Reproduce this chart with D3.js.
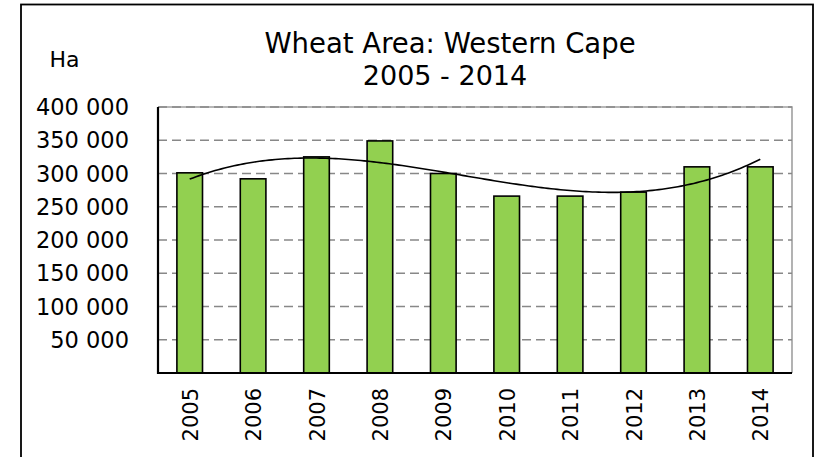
<!DOCTYPE html>
<html><head><meta charset="utf-8">
<script src="https://cdn.jsdelivr.net/npm/d3@7"></script>
<style>body{margin:0;background:#fff}svg{display:block}text{font-family:"DejaVu Sans",Verdana,sans-serif;fill:#000}</style>
</head><body><svg id="c" width="818" height="457"></svg>
<script>
const years = ["2005","2006","2007","2008","2009","2010","2011","2012","2013","2014"];
const area = [301000,292000,325000,349000,300000,266000,266000,272000,310000,310000];
const yTicks = [50000,100000,150000,200000,250000,300000,350000,400000];
const titleLines = ["Wheat Area: Western Cape","2005 - 2014"];
const unitLabel = "Ha";

const svg = d3.select("#c");
const m = {l:158, r:792, t:107, b:373};
const x = d3.scaleBand().domain(years).range([m.l,m.r]).paddingInner(0.596).paddingOuter(0.298);
const xc = d => x(d)+x.bandwidth()/2;
const y = d3.scaleLinear().domain([0,400000]).range([m.b,m.t]);

// outer frame
svg.append("rect").attr("x",21).attr("y",4.5).attr("width",792).attr("height",470)
  .attr("fill","none").attr("stroke","#000").attr("stroke-width",1.8);

// plot border top/right grey
svg.append("path").attr("d",`M${m.l},${m.t}H${m.r}V${m.b}`).attr("fill","none").attr("stroke","#a0a0a0").attr("stroke-width",1.6);

// gridlines
svg.append("g").selectAll("line").data(yTicks).join("line")
  .attr("x1",m.l).attr("x2",m.r).attr("y1",d=>y(d)).attr("y2",d=>y(d))
  .attr("stroke","#888").attr("stroke-width",1.6).attr("stroke-dasharray","9,5");

// bars
svg.append("g").selectAll("rect").data(area).join("rect")
  .attr("x",(d,i)=>x(years[i])).attr("width",x.bandwidth())
  .attr("y",d=>y(d)).attr("height",d=>y(0)-y(d))
  .attr("fill","#92D050").attr("stroke","#000").attr("stroke-width",1.6);

// polynomial (order 3) trendline fitted to the data
function polyfit(xs, ys, k){
  const n=k+1, A=[...Array(n)].map(()=>Array(n+1).fill(0));
  for(let r=0;r<n;r++){for(let c=0;c<n;c++)A[r][c]=d3.sum(xs,v=>Math.pow(v,r+c));A[r][n]=d3.sum(xs,(v,i)=>Math.pow(v,r)*ys[i]);}
  for(let i=0;i<n;i++){let p=i;for(let j=i+1;j<n;j++)if(Math.abs(A[j][i])>Math.abs(A[p][i]))p=j;[A[i],A[p]]=[A[p],A[i]];
    for(let j=0;j<n;j++){if(j===i)continue;const f=A[j][i]/A[i][i];for(let c=i;c<=n;c++)A[j][c]-=f*A[i][c];}}
  return A.map((r,i)=>r[n]/r[i]);
}
const xs = years.map((d,i)=>i+1);
const coef = polyfit(xs, area, 3);
const pf = t => coef.reduce((s,c,i)=>s+c*Math.pow(t,i),0);
const tx = d3.scaleLinear().domain([1,10]).range([xc(years[0]),xc(years[9])]);
const pts = d3.range(1,10.001,0.05).map(t=>[tx(t),y(pf(t))]);
svg.append("path").attr("d",d3.line()(pts)).attr("fill","none").attr("stroke","#000").attr("stroke-width",1.6);

// axes lines
svg.append("path").attr("d",`M${m.l},${m.t}V${m.b}H${m.r}`).attr("fill","none").attr("stroke","#000").attr("stroke-width",2.2);

// y labels
svg.append("g").selectAll("text").data(yTicks).join("text")
  .attr("x",129).attr("y",d=>y(d)).attr("dy","0.36em").attr("text-anchor","end")
  .attr("font-size",22.5).text(d=>d3.format(",")(d).replace(/,/g," "));

// x labels
svg.append("g").selectAll("text").data(years).join("text")
  .attr("transform",d=>`translate(${xc(d)+8},388) rotate(-90)`).attr("text-anchor","end")
  .attr("font-size",21).text(d=>d);

// titles
svg.append("text").attr("x",450).attr("y",53).attr("text-anchor","middle").attr("font-size",27.5).text(titleLines[0]);
svg.append("text").attr("x",445).attr("y",85).attr("text-anchor","middle").attr("font-size",27).text(titleLines[1]);
svg.append("text").attr("x",64.5).attr("y",67).attr("text-anchor","middle").attr("font-size",22).text(unitLabel);
</script></body></html>
